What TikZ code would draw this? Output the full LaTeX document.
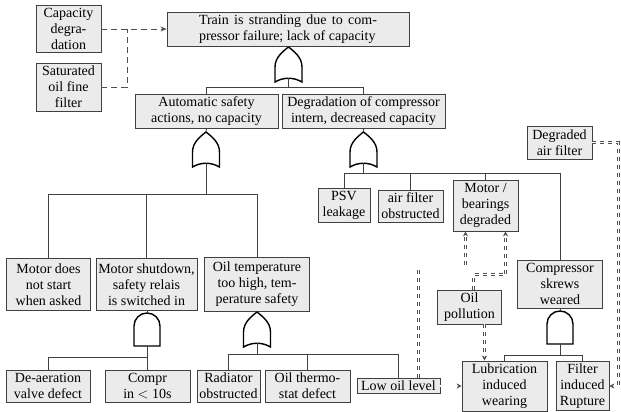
\documentclass[tikz,border=0pt]{standalone}
\usepackage{fontspec}
\setmainfont{Liberation Serif}
\usepackage{tikz}
\usetikzlibrary{arrows.meta}
\definecolor{kutuGri}{HTML}{EBEBEB}
\definecolor{cizgiGri}{HTML}{404040}
\definecolor{kesikGri}{HTML}{505050}
\tikzset{
  olay/.style={draw=cizgiGri,line width=0.9pt,fill=kutuGri,align=center,inner sep=2pt,
    font=\rmfamily\fontsize{14}{16}\selectfont},
  bag/.style={cizgiGri,line width=0.9pt},
  kapi/.style={black,line width=1.4pt,fill=white},
  kesik/.style={kesikGri,line width=0.9pt,dash pattern=on 6pt off 4pt,-{Stealth[length=6pt,width=5pt]}},
  cift/.style={kesikGri,line width=0.7pt,double=white,double distance=1.4pt,dash pattern=on 4pt off 4pt,
    -{Stealth[length=5pt,width=5pt]}},
  orkapi/.pic={
    \draw[kapi] (0,0) .. controls (5,4) and (13.5,10) .. (13.5,20) -- (13.5,35)
      .. controls (5,30) and (-5,30) .. (-13.5,35) -- (-13.5,20)
      .. controls (-13.5,10) and (-5,4) .. (0,0) -- cycle;
    \coordinate (-top) at (0,0);
    \coordinate (-bot) at (0,31.25);
  },
  vekapi/.pic={
    \draw[kapi] (-13,33) -- (-13,13) arc[start angle=180,end angle=360,radius=13] -- (13,33) -- cycle;
    \coordinate (-top) at (0,0);
    \coordinate (-bot) at (0,33);
  }
}

\begin{document}
\begin{tikzpicture}[x=1pt,y=-1pt]
\useasboundingbox (0,0) rectangle (621,412);
\node[olay,minimum width=65pt,minimum height=47pt] (kapasite) at (68.5,29) {Capacity\\degra-\\dation};
\node[olay,minimum width=65pt,minimum height=48pt] (doymus) at (68.5,87) {Saturated\\oil fine\\filter};
\node[olay,minimum width=242pt,minimum height=34pt,text width=178pt,align=justify] (tren) at (288,29) {Train is stranding due to com-\linebreak pressor failure; lack of capacity};
\node[olay,minimum width=143pt,minimum height=34pt] (otomatik) at (206.5,111) {Automatic safety\\actions, no capacity};
\node[olay,minimum width=163pt,minimum height=34pt] (bozulma) at (363.5,111) {Degradation of compressor\\intern, decreased capacity};
\node[olay,minimum width=52pt,minimum height=34pt] (psv) at (344,205) {PSV\\leakage};
\node[olay,minimum width=65pt,minimum height=32pt] (filtretik) at (410.5,206) {air filter\\obstructed};
\node[olay,minimum width=65pt,minimum height=51pt] (motoryatak) at (485.5,205.5) {Motor /\\bearings\\degraded};
\node[olay,minimum width=65pt,minimum height=33pt] (havafiltre) at (559.5,142.5) {Degraded\\air filter};
\node[olay,minimum width=85pt,minimum height=48pt] (vida) at (560,284) {Compressor\\skrews\\weared};
\node[olay,minimum width=84pt,minimum height=52pt] (motorbas) at (48.5,284.5) {Motor does\\not start\\when asked};
\node[olay,minimum width=101pt,minimum height=52pt] (motorkapa) at (146.5,284.5) {Motor shutdown,\\safety relais\\is switched in};
\node[olay,minimum width=105pt,minimum height=54pt] (yagsicak) at (257,284) {Oil temperature\\too high, tem-\\perature safety};
\node[olay,minimum width=84pt,minimum height=32pt] (havaalma) at (48,386) {De-aeration\\valve defect};
\node[olay,minimum width=85pt,minimum height=32pt] (kompr) at (147.5,386) {Compr\\in $<$ 10s};
\node[olay,minimum width=63pt,minimum height=32pt] (radyator) at (228.5,386) {Radiator\\obstructed};
\node[olay,minimum width=85pt,minimum height=32pt] (termostat) at (307.5,386) {Oil thermo-\\stat defect};
\node[olay,minimum width=83pt,minimum height=15pt,inner ysep=0.5pt] (dusukyag) at (398.5,386) {Low oil level};
\node[olay,minimum width=64pt,minimum height=34pt] (kirlilik) at (469.5,307) {Oil\\pollution};
\node[olay,minimum width=85pt,minimum height=50pt] (yaglama) at (504.5,386) {Lubrication\\induced\\wearing};
\node[olay,minimum width=53pt,minimum height=48pt] (filtrekopma) at (582.5,386) {Filter\\induced\\Rupture};

\pic (k0) at (288.5,47) {orkapi};
\pic (k1) at (206,132) {orkapi};
\pic (k2) at (363.5,132) {orkapi};
\pic (k3) at (147,313) {vekapi};
\pic (k4) at (257,312) {orkapi};
\pic (k5) at (560,311) {vekapi};

\draw[bag] (tren.south) -- (k0-top);
\foreach \c in {otomatik,bozulma} \draw[bag] (k0-bot) -- ++(0,9) -| (\c.north);
\draw[bag] (otomatik.south) -- (k1-top);
\foreach \c in {motorbas,motorkapa,yagsicak} \draw[bag] (k1-bot) -- ++(0,31) -| (\c.north);
\draw[bag] (bozulma.south) -- (k2-top);
\foreach \c in {psv,filtretik,motoryatak,vida} \draw[bag] (k2-bot) -- ++(0,10) -| (\c.north);
\draw[bag] (k3-top |- motorkapa.south) -- (k3-top);
\foreach \c in {havaalma,kompr} \draw[bag] (k3-bot) -- ++(0,11) -| (\c.north);
\draw[bag] (yagsicak.south) -- (k4-top);
\foreach \c in {radyator,termostat,dusukyag} \draw[bag] (k4-bot) -- ++(0,11) -| (\c.north);
\draw[bag] (vida.south) -- (k5-top);
\foreach \c in {yaglama,filtrekopma} \draw[bag] (k5-bot) -- ++(0,11) -| (\c.north);

\coordinate (birlesim) at (127,29);
\draw[kesik] (kapasite.east) -- (tren.west);
\draw[kesik,-] (doymus.east) -| (birlesim);

\draw[cift] (havafiltre.east) -- ++(26,0) |- (filtrekopma.east);
\draw[cift] (dusukyag.east) -- (yaglama.west);
\draw[cift] ([xshift=20pt]dusukyag.north) -- ++(0,-110) -| ([xshift=-20pt]motoryatak.south);
\draw[cift] ([xshift=4pt]kirlilik.north) -- ++(0,-15) -| ([xshift=20pt]motoryatak.south);
\draw[cift] ([xshift=15pt]kirlilik.south) -- ([xshift=-20pt]yaglama.north);
\end{tikzpicture}
\end{document}
